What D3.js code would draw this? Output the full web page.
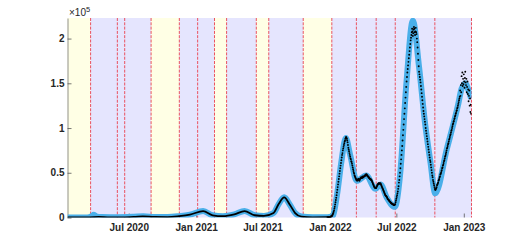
<!DOCTYPE html>
<html>
<head>
<meta charset="utf-8">
<script src="https://cdn.jsdelivr.net/npm/d3@7"></script>
<style>
  body { margin: 0; background: #fff; }
  svg { display: block; font-family: "Liberation Sans", Arial, sans-serif; }
</style>
</head>
<body>
<div id="chart"></div>
<script>
var w = 521;
var h = 244;
var plotLeft = 67.5, plotRight = 471.5, plotTop = 18, plotBottom = 217.5;

// background periods: boundary dates and the kind of each segment (Y = yellow, L = lavender)
var shadeBreaks = ["2020-01-16", "2020-03-19", "2020-05-31", "2020-06-20", "2020-08-31",
  "2020-11-16", "2021-01-05", "2021-02-20", "2021-03-25", "2021-06-14", "2021-07-18",
  "2021-10-20", "2022-01-06", "2022-03-14", "2022-05-07", "2022-06-28", "2022-10-14", "2023-01-22"];
var shadeKinds = ["Y", "L", "L", "L", "Y", "L", "L", "Y", "L", "Y", "L", "Y", "L", "L", "L", "L", "L"];

// smoothed curve (thousands)
var blueDates = ["2020-01-16", "2020-03-10", "2020-03-22", "2020-03-28", "2020-04-05", "2020-04-20",
  "2020-06-01", "2020-07-15", "2020-08-10", "2020-09-10", "2020-10-15", "2020-11-15", "2020-12-15",
  "2021-01-20", "2021-02-15", "2021-03-15", "2021-04-15", "2021-05-13", "2021-06-10", "2021-07-05",
  "2021-07-31", "2021-08-14", "2021-08-29", "2021-09-14", "2021-09-28", "2021-10-15", "2021-11-15",
  "2021-12-25", "2022-01-05", "2022-01-10", "2022-01-20", "2022-02-01", "2022-02-13", "2022-02-25",
  "2022-03-15", "2022-04-10", "2022-05-05", "2022-05-19", "2022-06-05", "2022-06-27", "2022-07-11",
  "2022-07-29", "2022-08-15", "2022-09-01", "2022-09-18", "2022-10-02", "2022-10-15", "2022-11-16",
  "2022-12-17", "2022-12-26", "2023-01-06", "2023-01-13", "2023-01-21"];
var blueVals = [0, 0, 1.5, 3, 1, 0.5,
  0.3, 0.8, 1.3, 0.6, 0.5, 1.5, 3.2,
  7.2, 2.5, 1.5, 3.5, 7.2, 2.5, 1.8,
  5, 15, 22.5, 14, 5, 1, 0.3,
  0.3, 1, 3, 25, 62, 89, 70,
  41, 47, 32, 37, 22, 12, 47,
  153, 220, 168, 103, 62, 27, 77,
  127, 144, 150, 143, 133];

// early daily counts drawn as a line (thousands)
var lineDates = ["2020-01-16", "2020-03-15", "2020-04-10", "2020-05-10", "2020-06-15", "2020-07-20",
  "2020-08-08", "2020-09-10", "2020-10-15", "2020-11-15", "2020-12-15", "2021-01-20", "2021-02-15",
  "2021-03-15", "2021-04-15", "2021-05-13", "2021-06-10", "2021-07-05", "2021-07-31", "2021-08-14",
  "2021-08-29", "2021-09-14", "2021-09-28", "2021-10-15", "2021-11-15", "2021-12-25"];
var lineVals = [0, 0.2, 0.6, 0.2, 0.2, 0.8,
  1.3, 0.6, 0.5, 1.5, 3.2, 7.2, 2.5,
  1.5, 3.5, 7.2, 2.5, 1.8, 5, 15,
  22.5, 14, 5, 1, 0.2, 0.3];

// daily counts from 2021-12-25 (thousands)
var dotStart = "2021-12-25";
var dotK = [
  0.3, 0.3, 0.4, 0.4, 0.5, 0.5, 0.6,
  0.7, 0.8, 0.9, 1.1, 1.4, 1.8, 2.3, 3, 4, 5, 6.5, 8, 10, 12, 14.5, 17, 19.5, 22, 25, 28, 31, 34, 37, 40, 43, 46, 49, 52, 55, 58, 61,
  64, 67, 70, 72, 75, 77, 79, 81, 83, 85, 86, 88, 89, 90, 89, 88, 86, 84, 81, 78, 76, 74, 72, 70, 68, 66, 65, 63,
  62, 60, 58, 56, 54, 52, 50, 49, 47, 46, 45, 44, 43, 42, 42, 41, 42, 42, 43, 43, 42, 41, 42, 43, 44, 44, 45, 44, 44, 45, 46,
  45, 45, 46, 46, 46, 47, 47, 47, 48, 48, 48, 47, 47, 46, 46, 45, 45, 44, 44, 43, 43, 43, 42, 42, 41, 40, 39, 38, 37, 36,
  35, 34, 34, 33, 33, 33, 33, 34, 35, 36, 37, 37, 38, 38, 38, 38, 38, 38, 38, 37, 36, 35, 34, 33, 32, 31, 30, 29, 28, 27, 26,
  25, 24.5, 24, 23.5, 23, 22, 21, 20.5, 20, 19.5, 19, 18.5, 18, 17.5, 17, 16.5, 16, 16, 15.5, 15, 15, 14.5, 14.5, 14, 14, 14, 14.5, 15, 17, 19,
  21, 23, 25, 27, 29, 32, 35, 39, 42, 46, 50, 55, 60, 65, 70, 75, 80, 86, 92, 98, 104, 110, 116, 122, 128, 134, 140, 146, 152, 157, 162,
  166, 170, 174, 178, 182, 186, 190, 194, 198, 201, 204, 207, 211, 208, 203, 206, 210, 213, 211, 207, 204, 208, 212, 207, 205, 200, 196, 190, 183, 176, 169,
  163, 160, 157, 154, 151, 147, 143, 139, 135, 131, 127, 123, 119, 116, 113, 110, 107, 104, 100, 97, 94, 91, 88, 85, 82, 79, 76, 73, 70, 67,
  64, 62, 59, 56, 53, 50, 47, 45, 42, 40, 38, 36, 34, 32, 31, 31, 32, 33, 34, 36, 37, 38, 39, 41, 42, 43, 45, 46, 48, 49, 50,
  52, 53, 55, 56, 58, 59, 61, 63, 64, 66, 68, 69, 71, 73, 75, 77, 78, 80, 82, 83, 85, 87, 88, 90, 92, 93, 95, 97, 98, 100,
  102, 104, 105, 107, 108, 110, 111, 113, 114, 116, 117, 119, 120, 122, 123, 125, 127, 129, 131, 133, 135, 142, 136, 148, 140, 158, 150, 162, 147, 155, 149,
  160, 152, 145, 156, 163, 151, 148, 155, 140, 146, 152, 138, 143, 130, 136, 142, 125, 133, 118, 126, 116
];

var xTicks = ["2020-07-01", "2021-01-01", "2021-07-01", "2022-01-01", "2022-07-01", "2023-01-01"];
var yTicks = [0, 50000, 100000, 150000, 200000];

var parse = d3.timeParse("%Y-%m-%d");

var xScale = d3.scaleTime()
  .domain([parse("2020-01-16"), parse("2023-01-22")])
  .range([plotLeft, plotRight]);

var yScale = d3.scaleLinear()
  .domain([0, 223000])
  .range([plotBottom, plotTop]);

var svg = d3.select("#chart").append("svg").attr("width", w).attr("height", h);

svg.append("clipPath").attr("id", "plot")
  .append("rect")
  .attr("x", plotLeft).attr("y", plotTop)
  .attr("width", plotRight - plotLeft).attr("height", plotBottom - plotTop);

// shaded periods
svg.append("g")
  .selectAll("rect")
  .data(shadeKinds)
  .enter()
  .append("rect")
  .attr("x", function (d, i) { return xScale(parse(shadeBreaks[i])); })
  .attr("y", plotTop)
  .attr("width", function (d, i) {
    return xScale(parse(shadeBreaks[i + 1])) - xScale(parse(shadeBreaks[i]));
  })
  .attr("height", plotBottom - plotTop)
  .attr("fill", function (d) { return d == "Y" ? "#ffffe5" : "#e5e5fe"; });

// dashed boundaries
svg.append("g")
  .selectAll("line")
  .data(shadeBreaks.slice(1))
  .enter()
  .append("line")
  .attr("x1", function (d) { return xScale(parse(d)); })
  .attr("x2", function (d) { return xScale(parse(d)); })
  .attr("y1", plotTop)
  .attr("y2", plotBottom)
  .attr("stroke", "#e8404f")
  .attr("stroke-width", 0.9)
  .attr("stroke-dasharray", "3,1.3");

// axes
var xAxis = d3.axisBottom(xScale)
  .tickValues(xTicks.map(parse))
  .tickFormat(d3.timeFormat("%b %Y"))
  .tickSizeInner(-4)
  .tickSizeOuter(0)
  .tickPadding(6);

var yAxis = d3.axisLeft(yScale)
  .tickValues(yTicks)
  .tickFormat(function (d) { return d / 1e5; })
  .tickSizeInner(-4)
  .tickSizeOuter(0)
  .tickPadding(3);

var gx = svg.append("g").attr("transform", "translate(0," + plotBottom + ")").call(xAxis);
gx.select(".domain").remove();
var gy = svg.append("g").attr("transform", "translate(" + plotLeft + ",0)").call(yAxis);

svg.selectAll(".tick line").attr("stroke", "#555").attr("stroke-width", 0.8);
gy.select(".domain").attr("stroke", "#777").attr("stroke-width", 0.8);
svg.selectAll(".tick text")
  .attr("fill", "#262626")
  .style("font-size", "10px")
  .style("font-family", "'Liberation Sans', Arial, sans-serif")
  .style("font-weight", "bold");

// exponent label
var expo = svg.append("text")
  .attr("x", 69)
  .attr("y", 16)
  .attr("fill", "#262626")
  .style("font-size", "10px")
  .text("\u00d710");
expo.append("tspan")
  .attr("dy", -4)
  .style("font-size", "7.5px")
  .text("5");

var plot = svg.append("g").attr("clip-path", "url(#plot)");

var blueLine = d3.line()
  .x(function (d, i) { return xScale(parse(blueDates[i])); })
  .y(function (d) { return yScale(d * 1000); })
  .curve(d3.curveMonotoneX);

plot.append("path")
  .attr("d", blueLine(blueVals))
  .attr("fill", "none")
  .attr("stroke", "#4aafe9")
  .attr("stroke-width", 6)
  .attr("stroke-linejoin", "round");

var blackLine = d3.line()
  .x(function (d, i) { return xScale(parse(lineDates[i])); })
  .y(function (d) { return yScale(d * 1000); })
  .curve(d3.curveMonotoneX);

plot.append("path")
  .attr("d", blackLine(lineVals))
  .attr("fill", "none")
  .attr("stroke", "#000")
  .attr("stroke-width", 1.8);

var start = parse(dotStart);
plot.append("g")
  .selectAll("circle")
  .data(dotK)
  .enter()
  .append("circle")
  .attr("cx", function (d, i) { return xScale(d3.timeDay.offset(start, i)); })
  .attr("cy", function (d) { return yScale(d * 1000); })
  .attr("r", 0.95)
  .attr("fill", "#000");
</script>
</body>
</html>
